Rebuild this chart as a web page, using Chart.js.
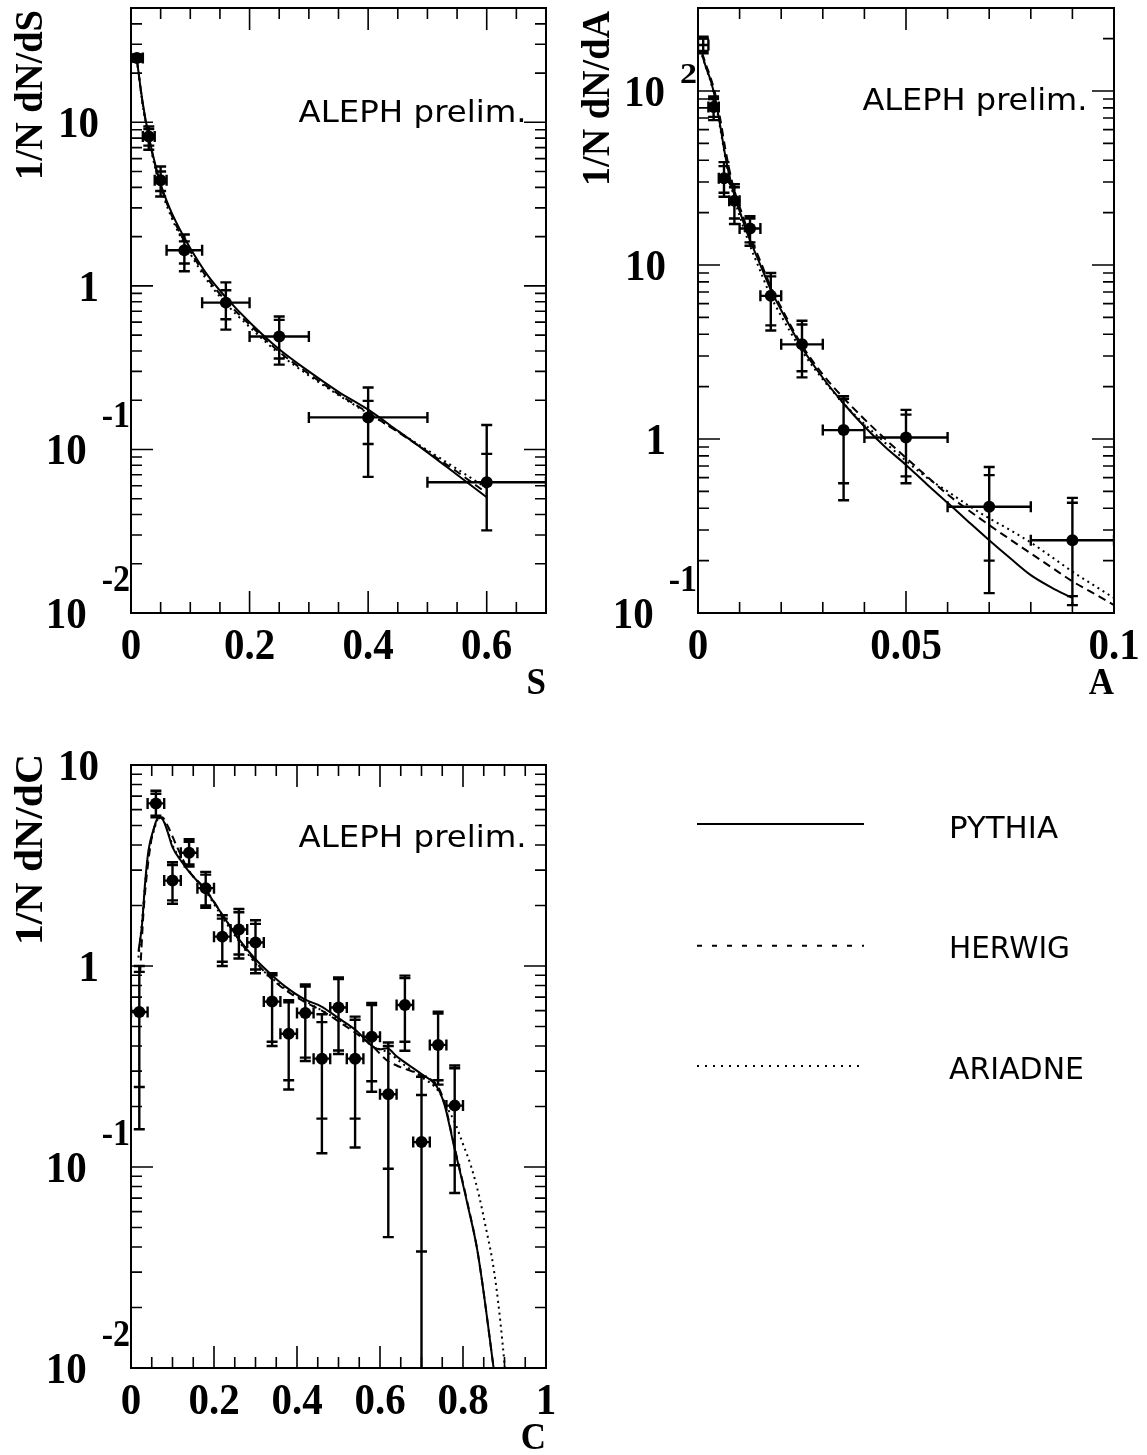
<!DOCTYPE html>
<html>
<head>
<meta charset="utf-8">
<script src="https://cdn.jsdelivr.net/npm/chart.js@4.4.1/dist/chart.umd.min.js"></script>
<style>
  html, body { margin: 0; padding: 0; background: #fff; }
  body { width: 1147px; height: 1455px; position: relative; overflow: hidden; }
  canvas { position: absolute; }
</style>
</head>
<body>
<canvas id="sChart" width="573" height="720" style="left:0;top:0"></canvas>
<canvas id="aChart" width="574" height="720" style="left:573px;top:0"></canvas>
<canvas id="cChart" width="1147" height="735" style="left:0;top:720px"></canvas>
<script>
// ---------- S (sphericity) ----------
const sCenter = [0.01, 0.03, 0.05, 0.09, 0.16, 0.25, 0.4, 0.6];
const sBinLo = [0, 0.02, 0.04, 0.06, 0.12, 0.2, 0.3, 0.5];
const sBinHi = [0.02, 0.04, 0.06, 0.12, 0.2, 0.3, 0.5, 0.7];
const sValue = [24.7, 8.2, 4.42, 1.65, 0.79, 0.49, 0.157, 0.063];
const sTotLo = [23.5, 6.8, 3.52, 1.23, 0.54, 0.33, 0.068, 0.032];
const sTotHi = [26.0, 9.44, 5.37, 2.06, 1.05, 0.65, 0.239, 0.141];
const sStatLo = [24.0, 7.2, 3.8, 1.37, 0.625, 0.36, 0.108, 0.032];
const sStatHi = [25.5, 9.1, 5.0, 1.87, 0.94, 0.62, 0.198, 0.094];
const sModelX = [0.01, 0.02, 0.03, 0.04, 0.05, 0.065, 0.08, 0.1, 0.13, 0.16, 0.2, 0.25, 0.3, 0.35, 0.4, 0.45, 0.5, 0.55, 0.6];
const sPythia = [24, 13, 8.2, 5.7, 4.2, 3.0, 2.3, 1.7, 1.15, 0.85, 0.6, 0.41, 0.3, 0.225, 0.175, 0.13, 0.096, 0.07, 0.051];
const sHerwig = [24, 12.8, 8.1, 5.6, 4.1, 2.9, 2.2, 1.63, 1.1, 0.81, 0.58, 0.395, 0.29, 0.218, 0.168, 0.128, 0.097, 0.073, 0.054];
const sAriadne = [24, 12.6, 8.0, 5.4, 3.95, 2.8, 2.12, 1.57, 1.06, 0.78, 0.56, 0.385, 0.283, 0.215, 0.166, 0.129, 0.099, 0.076, 0.058];
const sXTicks = [0, 0.2, 0.4, 0.6];
const sXTickLabels = ['0', '0.2', '0.4', '0.6'];
const sYTicks = [0.01, 0.1, 1, 10];
const sYTickLabels = ['10^-2', '10^-1', '1', '10'];

// ---------- A (aplanarity) ----------
const aCenter = [0.00125, 0.00375, 0.00625, 0.00875, 0.0125, 0.0175, 0.025, 0.035, 0.05, 0.07, 0.09];
const aBinLo = [0, 0.0025, 0.005, 0.0075, 0.01, 0.015, 0.02, 0.03, 0.04, 0.06, 0.08];
const aBinHi = [0.0025, 0.005, 0.0075, 0.01, 0.015, 0.02, 0.03, 0.04, 0.06, 0.08, 0.1];
const aValue = [184, 81, 31.5, 23.4, 16.2, 6.65, 3.5, 1.125, 1.02, 0.408, 0.262];
const aTotLo = [165, 68, 24.7, 17.2, 12.9, 4.2, 2.26, 0.445, 0.557, 0.13, 0.111];
const aTotHi = [205, 93, 39, 29.1, 19.1, 9.0, 4.78, 1.76, 1.47, 0.69, 0.459];
const aStatLo = [170, 71, 26, 18.5, 13.5, 4.5, 2.45, 0.557, 0.61, 0.2, 0.125];
const aStatHi = [200, 90, 37, 28, 18.5, 8.6, 4.55, 1.7, 1.38, 0.62, 0.43];
const aPythiaX = [0.001, 0.002, 0.003, 0.0042, 0.0054, 0.0066, 0.0082, 0.0102, 0.0122, 0.015, 0.0175, 0.02, 0.025, 0.03, 0.035, 0.04, 0.045, 0.05, 0.055, 0.06, 0.065, 0.07, 0.075, 0.08, 0.085, 0.09];
const aPythia = [161, 135, 116, 89, 62, 42, 28, 19.8, 14.5, 10, 7.2, 5.5, 3.35, 2.25, 1.6, 1.18, 0.9, 0.71, 0.55, 0.43, 0.335, 0.262, 0.207, 0.165, 0.14, 0.122];
const aOtherX = [0.001, 0.002, 0.003, 0.0042, 0.0054, 0.0066, 0.0082, 0.0102, 0.0122, 0.015, 0.0175, 0.02, 0.025, 0.03, 0.035, 0.04, 0.045, 0.05, 0.055, 0.06, 0.065, 0.07, 0.075, 0.08, 0.085, 0.09, 0.095, 0.1];
const aHerwig = [165, 140, 120, 95, 68, 46, 30, 21, 15.3, 10.5, 7.5, 5.7, 3.45, 2.35, 1.72, 1.3, 1.0, 0.78, 0.61, 0.48, 0.39, 0.32, 0.265, 0.22, 0.183, 0.152, 0.13, 0.111];
const aAriadne = [160, 134, 114, 87, 60, 41, 27, 18.5, 13.5, 9.2, 6.6, 5.1, 3.2, 2.2, 1.6, 1.22, 0.95, 0.75, 0.6, 0.5, 0.415, 0.35, 0.3, 0.254, 0.21, 0.173, 0.145, 0.122];
const aXTicks = [0, 0.05, 0.1];
const aXTickLabels = ['0', '0.05', '0.1'];
const aYTicks = [0.1, 1, 10, 100];
const aYTickLabels = ['10^-1', '1', '10', '10^2'];

// ---------- C parameter ----------
const cCenter = [0.02, 0.06, 0.10, 0.14, 0.18, 0.22, 0.26, 0.30, 0.34, 0.38, 0.42, 0.46, 0.50, 0.54, 0.58, 0.62, 0.66, 0.70, 0.74, 0.78];
const cBinLo = [0, 0.04, 0.08, 0.12, 0.16, 0.20, 0.24, 0.28, 0.32, 0.36, 0.40, 0.44, 0.48, 0.52, 0.56, 0.60, 0.64, 0.68, 0.72, 0.76];
const cBinHi = [0.04, 0.08, 0.12, 0.16, 0.20, 0.24, 0.28, 0.32, 0.36, 0.40, 0.44, 0.48, 0.52, 0.56, 0.60, 0.64, 0.68, 0.72, 0.76, 0.80];
const cValue = [0.59, 6.44, 2.66, 3.66, 2.44, 1.40, 1.52, 1.31, 0.665, 0.46, 0.584, 0.346, 0.622, 0.346, 0.445, 0.23, 0.64, 0.133, 0.405, 0.202];
const cTotLo = [0.154, 5.5, 2.04, 3.12, 1.95, 1.0, 1.09, 0.92, 0.40, 0.243, 0.337, 0.117, 0.365, 0.125, 0.237, 0.0448, 0.379, 0.001, 0.257, 0.0743];
const cTotHi = [1.0, 7.44, 3.28, 4.27, 2.94, 1.79, 1.92, 1.69, 0.92, 0.676, 0.81, 0.575, 0.877, 0.56, 0.655, 0.416, 0.896, 0.281, 0.593, 0.32];
const cStatLo = [0.25, 5.6, 2.12, 3.2, 2.0, 1.05, 1.14, 0.96, 0.42, 0.27, 0.35, 0.174, 0.38, 0.174, 0.267, 0.098, 0.42, 0.038, 0.27, 0.102];
const cStatHi = [0.935, 7.2, 3.18, 4.15, 2.85, 1.72, 1.85, 1.62, 0.9, 0.66, 0.79, 0.526, 0.86, 0.54, 0.64, 0.40, 0.87, 0.228, 0.58, 0.31];
const cPythiaX = [0.018, 0.0265, 0.034, 0.042, 0.054, 0.066, 0.074, 0.086, 0.1, 0.12, 0.143, 0.18, 0.22, 0.26, 0.3, 0.337, 0.372, 0.42, 0.458, 0.5, 0.544, 0.581, 0.6, 0.617, 0.64, 0.7, 0.7375, 0.755, 0.778, 0.811, 0.836, 0.88];
const cPythia = [1.18, 1.6, 2.6, 3.75, 4.75, 5.5, 5.45, 4.8, 3.9, 3.35, 2.89, 2.38, 1.8, 1.36, 1.08, 0.91, 0.79, 0.68, 0.63, 0.55, 0.475, 0.40, 0.385, 0.39, 0.355, 0.29, 0.25, 0.205, 0.128, 0.065, 0.037, 0.008];
const cHerwigX = [0.022, 0.03, 0.0385, 0.0505, 0.066, 0.075, 0.09, 0.11, 0.1386, 0.18, 0.22, 0.26, 0.3, 0.337, 0.372, 0.42, 0.46, 0.5, 0.544, 0.581, 0.62, 0.64, 0.7, 0.7375, 0.755, 0.778, 0.811, 0.836, 0.88];
const cHerwig = [0.92, 1.83, 2.89, 4.4, 5.4, 5.5, 4.9, 3.95, 3.0, 2.4, 1.8, 1.35, 1.05, 0.87, 0.76, 0.66, 0.6, 0.53, 0.46, 0.40, 0.335, 0.32, 0.285, 0.255, 0.21, 0.13, 0.066, 0.037, 0.008];
const cAriadneX = [0.018, 0.027, 0.035, 0.043, 0.055, 0.066, 0.075, 0.09, 0.1, 0.12, 0.143, 0.18, 0.22, 0.26, 0.3, 0.337, 0.372, 0.42, 0.46, 0.5, 0.544, 0.581, 0.62, 0.66, 0.7, 0.74, 0.76, 0.78, 0.8, 0.82, 0.84, 0.855, 0.87, 0.88, 0.89, 0.9, 0.905];
const cAriadne = [1.1, 1.7, 2.7, 3.7, 4.7, 5.4, 5.4, 4.6, 4.0, 3.4, 2.9, 2.35, 1.75, 1.33, 1.03, 0.88, 0.77, 0.67, 0.6, 0.54, 0.47, 0.4, 0.37, 0.32, 0.28, 0.24, 0.2, 0.167, 0.13, 0.1, 0.07, 0.05, 0.035, 0.0255, 0.017, 0.0105, 0.008];
const cXTicks = [0, 0.2, 0.4, 0.6, 0.8, 1];
const cXTickLabels = ['0', '0.2', '0.4', '0.6', '0.8', '1'];
const cYTicks = [0.01, 0.1, 1, 10];
const cYTickLabels = ['10^-2', '10^-1', '1', '10'];

const modelNames = ['PYTHIA', 'HERWIG', 'ARIADNE'];

// ---------- drawing helpers ----------
const TICK_FONT = 'bold 41px "Liberation Serif"';
const EXP_FONT = 'bold 34px "Liberation Serif"';
const TITLE_FONT = 'bold 35px "Liberation Serif"';
const YTITLE_FONT = 'bold 39px "Liberation Serif"';
const SANS_FONT = '31px "DejaVu Sans"';
const STRETCH = 1.1;
const lineDash = [[], [8, 5], [2, 4]];
const legendDash = [[], [5, 10], [2, 6]];

function put(ctx, s, x, y, font, align, sy, width) {
    ctx.save();
    ctx.font = font;
    ctx.textAlign = align;
    ctx.textBaseline = 'alphabetic';
    ctx.translate(x, y);
    let sx = 1;
    if (width) sx = width / ctx.measureText(s).width;
    ctx.scale(sx, sy || 1);
    ctx.fillText(s, 0, 0);
    ctx.restore();
}

function seg(ctx, x1, y1, x2, y2) {
    ctx.moveTo(x1, y1);
    ctx.lineTo(x2, y2);
}

function drawErrors(chart, cfg) {
    const ctx = chart.ctx, a = chart.chartArea;
    const xs = chart.scales.x, ys = chart.scales.y;
    const p = cfg.points;
    const cap = 5.5;
    ctx.save();
    ctx.beginPath();
    ctx.rect(a.left, a.top, a.right - a.left, a.bottom - a.top);
    ctx.clip();
    ctx.strokeStyle = '#000';
    ctx.lineWidth = 2.4;
    ctx.beginPath();
    for (let i = 0; i < p.center.length; i++) {
        const px = xs.getPixelForValue(p.center[i]);
        const py = ys.getPixelForValue(p.value[i]);
        const yl = ys.getPixelForValue(p.totLo[i]);
        const yh = ys.getPixelForValue(p.totHi[i]);
        seg(ctx, px, yl, px, yh);
        [p.totLo[i], p.totHi[i], p.statLo[i], p.statHi[i]].forEach(v => {
            const y = ys.getPixelForValue(v);
            seg(ctx, px - cap, y, px + cap, y);
        });
        const xl = xs.getPixelForValue(p.lo[i]);
        const xh = xs.getPixelForValue(p.hi[i]);
        seg(ctx, xl, py, xh, py);
        seg(ctx, xl, py - cap, xl, py + cap);
        seg(ctx, xh, py - cap, xh, py + cap);
    }
    ctx.stroke();
    ctx.restore();
}

function drawFrame(chart, cfg) {
    const ctx = chart.ctx, a = chart.chartArea;
    const xs = chart.scales.x, ys = chart.scales.y;
    ctx.save();
    ctx.strokeStyle = '#000';
    ctx.fillStyle = '#000';
    ctx.lineWidth = 1.6;
    ctx.beginPath();
    const n = Math.round((cfg.xMax - cfg.xMin) / cfg.xMinorStep);
    for (let k = 1; k < n; k++) {
        const v = cfg.xMin + k * cfg.xMinorStep;
        const major = cfg.xTicks.some(t => Math.abs(t - v) < 1e-9);
        const len = major ? 22 : 11;
        const px = xs.getPixelForValue(v);
        seg(ctx, px, a.bottom, px, a.bottom - len);
        seg(ctx, px, a.top, px, a.top + len);
    }
    const d0 = Math.floor(Math.log10(cfg.yMin) + 1e-9);
    const d1 = Math.ceil(Math.log10(cfg.yMax));
    for (let d = d0; d <= d1; d++) {
        for (let m = 1; m <= 9; m++) {
            const v = m * Math.pow(10, d);
            if (v <= cfg.yMin * 1.0001 || v >= cfg.yMax * 0.9999) continue;
            const len = m === 1 ? 22 : 11;
            const py = ys.getPixelForValue(v);
            seg(ctx, a.left, py, a.left + len, py);
            seg(ctx, a.right, py, a.right - len, py);
        }
    }
    ctx.stroke();
    ctx.lineWidth = 2;
    ctx.strokeRect(a.left, a.top, a.right - a.left, a.bottom - a.top);

    // x tick labels
    cfg.xTicks.forEach((v, i) => {
        put(ctx, cfg.xLabels[i], xs.getPixelForValue(v), a.bottom + 46, TICK_FONT, 'center', STRETCH);
    });
    // y tick labels, "10^-1" style with the exponent set up and to the right
    cfg.yTicks.forEach((v, i) => {
        const py = ys.getPixelForValue(v);
        const parts = cfg.yLabels[i].split('^');
        if (parts.length === 1) {
            put(ctx, parts[0], a.left - 32, py + 15, TICK_FONT, 'right', STRETCH);
        } else {
            ctx.font = EXP_FONT;
            const w = ctx.measureText(parts[1]).width;
            const expRight = a.left - 1;
            const neg = parts[1].charAt(0) === '-';
            put(ctx, parts[1], expRight, py + (neg ? -22 : -8), EXP_FONT, 'right', neg ? STRETCH : 0.85);
            put(ctx, parts[0], expRight - w - 15, py + 15, TICK_FONT, 'right', STRETCH);
        }
    });
    // axis titles
    put(ctx, cfg.xTitle, a.right, a.bottom + 81, TITLE_FONT, 'right', STRETCH);
    ctx.save();
    ctx.font = YTITLE_FONT;
    const tw = ctx.measureText(cfg.yTitle).width;
    ctx.translate(a.left - 89, cfg.yTitleSpan[0]);
    ctx.rotate(-Math.PI / 2);
    ctx.scale((cfg.yTitleSpan[0] - cfg.yTitleSpan[1]) / tw, 1);
    ctx.textAlign = 'left';
    ctx.textBaseline = 'alphabetic';
    ctx.fillText(cfg.yTitle, 0, 0);
    ctx.restore();

    put(ctx, 'ALEPH prelim.', cfg.aleph[0], cfg.aleph[1], SANS_FONT, 'left', 1, cfg.aleph[2]);

    if (cfg.legend) {
        const rows = [[104, 117.7, 109], [225.7, 238.3, 121], [346, 359.3, 135]];
        chart.data.datasets.slice(1).forEach((ds, i) => {
            ctx.save();
            ctx.lineWidth = 2;
            ctx.setLineDash(legendDash[i]);
            ctx.beginPath();
            seg(ctx, 697, rows[i][0], 864, rows[i][0]);
            ctx.stroke();
            ctx.restore();
            put(ctx, ds.label, 949, rows[i][1], SANS_FONT, 'left', 1, rows[i][2]);
        });
    }
    ctx.restore();
}

function pairs(xs, ys) {
    return xs.map((x, i) => ({ x: x, y: ys[i] }));
}

function buildPanel(id, cfg) {
    const p = cfg.points;
    const datasets = [{
        type: 'scatter',
        label: 'ALEPH',
        data: pairs(p.center, p.value),
        pointRadius: cfg.hideFirst ? (c => (c.dataIndex === 0 ? 0 : 6)) : 6,
        pointBackgroundColor: '#000',
        pointBorderColor: '#000',
        pointBorderWidth: 0,
        showLine: false
    }];
    cfg.models.forEach((m, i) => {
        datasets.push({
            type: 'line',
            label: modelNames[i],
            data: pairs(m[0], m[1]),
            borderColor: '#000',
            borderWidth: 2,
            borderDash: lineDash[i],
            pointRadius: 0,
            fill: false,
            cubicInterpolationMode: 'monotone'
        });
    });
    return new Chart(document.getElementById(id), {
        type: 'scatter',
        data: { datasets: datasets },
        options: {
            responsive: false,
            animation: false,
            devicePixelRatio: 1,
            events: [],
            layout: { padding: cfg.pad },
            plugins: { legend: { display: false }, tooltip: { enabled: false } },
            scales: {
                x: { type: 'linear', min: cfg.xMin, max: cfg.xMax, display: false },
                y: { type: 'logarithmic', min: cfg.yMin, max: cfg.yMax, display: false }
            }
        },
        plugins: [{
            id: 'alephFrame',
            beforeDatasetsDraw(chart) { drawErrors(chart, cfg); },
            afterDraw(chart) { drawFrame(chart, cfg); }
        }]
    });
}

buildPanel('sChart', {
    xMin: 0, xMax: 0.7, yMin: 0.01, yMax: 50,
    xTicks: sXTicks, xLabels: sXTickLabels, xMinorStep: 0.05,
    yTicks: sYTicks, yLabels: sYTickLabels,
    xTitle: 'S', yTitle: '1/N dN/dS', yTitleSpan: [180, 10],
    aleph: [298.6, 122, 228],
    pad: { left: 131, top: 8, right: 27, bottom: 107 },
    points: { center: sCenter, lo: sBinLo, hi: sBinHi, value: sValue, totLo: sTotLo, totHi: sTotHi, statLo: sStatLo, statHi: sStatHi },
    models: [[sModelX, sPythia], [sModelX, sHerwig], [sModelX, sAriadne]]
});

buildPanel('aChart', {
    xMin: 0, xMax: 0.1, yMin: 0.1, yMax: 300,
    xTicks: aXTicks, xLabels: aXTickLabels, xMinorStep: 0.01,
    yTicks: aYTicks, yLabels: aYTickLabels,
    xTitle: 'A', yTitle: '1/N dN/dA', yTitleSpan: [186, 11],
    aleph: [289.4, 110, 225],
    pad: { left: 125, top: 8, right: 33, bottom: 107 },
    hideFirst: true,
    points: { center: aCenter, lo: aBinLo, hi: aBinHi, value: aValue, totLo: aTotLo, totHi: aTotHi, statLo: aStatLo, statHi: aStatHi },
    models: [[aPythiaX, aPythia], [aOtherX, aHerwig], [aOtherX, aAriadne]]
});

buildPanel('cChart', {
    xMin: 0, xMax: 1, yMin: 0.01, yMax: 10,
    xTicks: cXTicks, xLabels: cXTickLabels, xMinorStep: 0.05,
    yTicks: cYTicks, yLabels: cYTickLabels,
    xTitle: 'C', yTitle: '1/N dN/dC', yTitleSpan: [225, 34],
    aleph: [298.6, 127, 228],
    pad: { left: 131, top: 45, right: 601, bottom: 87 },
    legend: true,
    points: { center: cCenter, lo: cBinLo, hi: cBinHi, value: cValue, totLo: cTotLo, totHi: cTotHi, statLo: cStatLo, statHi: cStatHi },
    models: [[cPythiaX, cPythia], [cHerwigX, cHerwig], [cAriadneX, cAriadne]]
});
</script>
</body>
</html>
